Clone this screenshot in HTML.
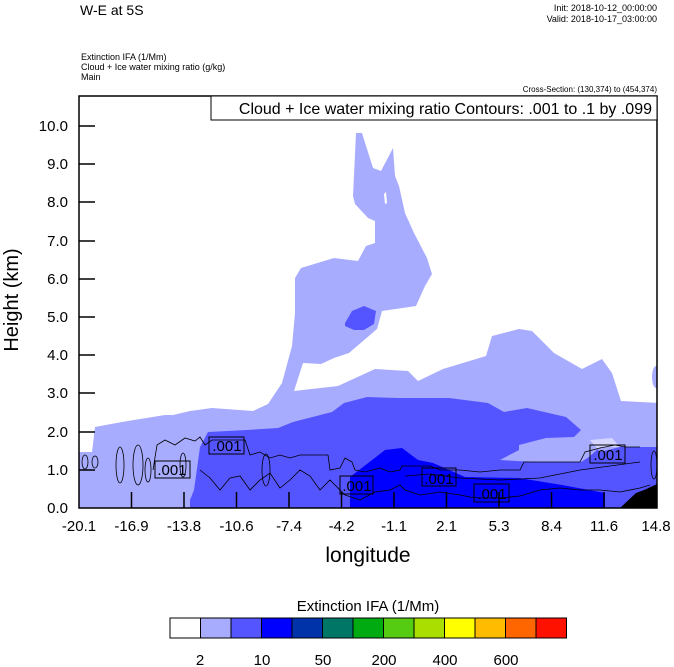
<!DOCTYPE html>
<html><head><style>
body{margin:0;background:#fff;}
svg{display:block;font-family:"Liberation Sans",sans-serif;}
</style></head><body>
<svg width="674" height="667" viewBox="0 0 674 667">
<text x="80" y="15" font-size="14">W-E at 5S</text>
<text x="657" y="11" font-size="9" text-anchor="end">Init: 2018-10-12_00:00:00</text>
<text x="657" y="22" font-size="9" text-anchor="end">Valid: 2018-10-17_03:00:00</text>
<text x="81" y="60" font-size="9">Extinction IFA   (1/Mm)</text>
<text x="81" y="70" font-size="9">Cloud + Ice water mixing ratio    (g/kg)</text>
<text x="81" y="80" font-size="9">Main</text>
<text x="657" y="92" font-size="8" text-anchor="end">Cross-Section: (130,374) to (454,374)</text>
<defs><clipPath id="c"><rect x="79" y="96" width="578" height="412"/></clipPath></defs>
<g clip-path="url(#c)">
<path fill="#a8acff" d="M356,133 L362,133 L373,168 L381,171 L393,148 L395,176 L399,186 L405,213 L414,233 L427,258 L432,274 L425,286 L416,306 L382,311 L377,329 L349,353 L334,358 L321,364 L303,363 L294,391 L338,386 L375,369 L408,371 L418,381 L443,369 L486,356 L492,336 L519,329 L532,331 L554,353 L582,369 L602,359 L612,373 L621,401 L660,403 L660,510 L76,510 L76,452 L92,452 L95,427 L122,422 L165,415 L173,415 L190,411 L212,408 L253,411 L268,404 L282,383 L292,346 L295,313 L295,278 L301,268 L334,258 L358,261 L366,246 L375,243 L375,221 L368,218 L355,204 L353,196 Z"/>
<path fill="#fff" d="M384,194 L386,192 L387,203 L385,204 Z"/>
<ellipse cx="656" cy="377" rx="4" ry="11" fill="#a8acff"/>
<path fill="#5555ff" d="M190,508 L190,500 L194,490 L200,447 L208,432 L247,430 L278,428 L293,422 L332,412 L344,403 L367,397 L398,398 L449,398 L488,403 L504,412 L527,408 L566,417 L581,430 L574,437 L546,438 L519,445 L519,450 L500,460 L535,462 L581,462 L589,457 L600,447 L620,447 L660,447 L660,508 Z"/>
<path fill="#5555ff" d="M345,323 L352,311 L364,306 L376,311 L374,324 L364,330 L354,330 L345,326 Z"/>
<path fill="#fff" opacity="0.5" d="M590,440 L612,438 L620,447 L600,452 Z"/>
<path fill="#0000ff" d="M350,508 L350,477 L385,450 L402,448 L418,460 L433,463 L465,477 L519,478 L562,485 L605,493 L605,508 Z"/>
<path fill="#000" d="M620,508 L636,493 L644,490 L655,485 L660,482 L660,508 Z"/>
<g fill="none" stroke="#000" stroke-width="0.8">
<path d="M153,470 L157,445 L165,440 L175,445 L185,438 L195,441 L200,437 L205,445 L212,440 L245,440 L250,455 L260,452 L270,458 L280,455 L290,458 L300,455 L328,455 L330,470 L340,468 L345,458 L352,462 L355,470 L365,472 L380,468 L390,472 L400,470 L402,466 L430,466 L440,470 L460,470 L480,472 L500,470 L520,470 L524,462 L580,462 L585,452 L600,448 L615,445 L625,447 L640,447"/>
<path d="M200,470 L210,478 L220,490 L230,478 L240,476 L250,490 L260,480 L270,473 L280,488 L290,480 L300,470 L310,476 L320,490 L330,480 L345,495 L360,500 L375,492 L390,490 L400,485 L405,490 L420,495 L440,492 L460,495 L470,497 L480,498 L500,498 L520,496 L540,490 L560,488 L580,490 L600,490 L620,492 L640,488 L650,485"/>
<path d="M405,476 L430,474 L460,478 L500,480 L540,478 L580,470 L610,466 L640,462"/>
<ellipse cx="85" cy="462" rx="3" ry="7"/><ellipse cx="95" cy="462" rx="3" ry="6"/>
<ellipse cx="120" cy="465" rx="4" ry="18"/><ellipse cx="138" cy="465" rx="5" ry="20"/>
<ellipse cx="148" cy="470" rx="3" ry="12"/><ellipse cx="183" cy="465" rx="3" ry="12"/>
<ellipse cx="654" cy="465" rx="3" ry="14"/><ellipse cx="266" cy="470" rx="4" ry="16"/>
</g>
<g fill="none" stroke="#000" stroke-width="1">
<rect x="155" y="461" width="35" height="17"/><rect x="209" y="437" width="35" height="17"/>
<rect x="340" y="476" width="33" height="18"/><rect x="422" y="468" width="34" height="18"/>
<rect x="474" y="484" width="35" height="18"/><rect x="590" y="445" width="35" height="18"/>
</g>
<g font-size="15" text-anchor="middle">
<text x="172" y="475">.001</text><text x="227" y="451">.001</text>
<text x="357" y="491">.001</text><text x="439" y="484">.001</text>
<text x="492" y="499">.001</text><text x="608" y="460">.001</text>
</g>
</g>
<rect x="79" y="96" width="578" height="412" fill="none" stroke="#000" stroke-width="1.5"/>
<rect x="211" y="96" width="446" height="24" fill="#fff" stroke="#000" stroke-width="1"/>
<text x="652" y="114" font-size="16" text-anchor="end">Cloud + Ice water mixing ratio Contours: .001 to .1 by .099</text>
<g stroke="#000" stroke-width="1.5">
<line x1="79" y1="126" x2="95" y2="126"/><line x1="79" y1="164" x2="95" y2="164"/><line x1="79" y1="202" x2="95" y2="202"/><line x1="79" y1="241" x2="95" y2="241"/><line x1="79" y1="279" x2="95" y2="279"/><line x1="79" y1="317" x2="95" y2="317"/><line x1="79" y1="355" x2="95" y2="355"/><line x1="79" y1="393" x2="95" y2="393"/><line x1="79" y1="432" x2="95" y2="432"/><line x1="79" y1="470" x2="95" y2="470"/>
<line x1="131.5" y1="508" x2="131.5" y2="492"/><line x1="184" y1="508" x2="184" y2="492"/><line x1="236.5" y1="508" x2="236.5" y2="492"/><line x1="289" y1="508" x2="289" y2="492"/><line x1="341.5" y1="508" x2="341.5" y2="492"/><line x1="394" y1="508" x2="394" y2="492"/><line x1="446.5" y1="508" x2="446.5" y2="492"/><line x1="499" y1="508" x2="499" y2="492"/><line x1="551.5" y1="508" x2="551.5" y2="492"/><line x1="604" y1="508" x2="604" y2="492"/>
</g>
<g font-size="15" text-anchor="end">
<text x="68" y="131">10.0</text><text x="68" y="169">9.0</text><text x="68" y="207">8.0</text><text x="68" y="246">7.0</text><text x="68" y="284">6.0</text><text x="68" y="322">5.0</text><text x="68" y="360">4.0</text><text x="68" y="398">3.0</text><text x="68" y="437">2.0</text><text x="68" y="475">1.0</text><text x="68" y="513">0.0</text>
</g>
<g font-size="15" text-anchor="middle">
<text x="79" y="531">-20.1</text><text x="131.5" y="531">-16.9</text><text x="184" y="531">-13.8</text><text x="236.5" y="531">-10.6</text><text x="289" y="531">-7.4</text><text x="341.5" y="531">-4.2</text><text x="394" y="531">-1.1</text><text x="446.5" y="531">2.1</text><text x="499" y="531">5.3</text><text x="551.5" y="531">8.4</text><text x="604" y="531">11.6</text><text x="656" y="531">14.8</text>
</g>
<text x="368" y="562" font-size="21" text-anchor="middle">longitude</text>
<text transform="translate(18,300) rotate(-90)" font-size="20" text-anchor="middle">Height (km)</text>
<text x="368" y="611" font-size="15" text-anchor="middle">Extinction IFA  (1/Mm)</text>
<g stroke="#000" stroke-width="1">
<rect x="170" y="618" width="30.5" height="20" fill="#fff"/>
<rect x="200.5" y="618" width="30.5" height="20" fill="#a8acff"/>
<rect x="231" y="618" width="30.5" height="20" fill="#5555ff"/>
<rect x="261.5" y="618" width="30.5" height="20" fill="#0000ff"/>
<rect x="292" y="618" width="30.5" height="20" fill="#0033aa"/>
<rect x="322.5" y="618" width="30.5" height="20" fill="#007766"/>
<rect x="353" y="618" width="30.5" height="20" fill="#00aa11"/>
<rect x="383.5" y="618" width="30.5" height="20" fill="#55cc11"/>
<rect x="414" y="618" width="30.5" height="20" fill="#aadd00"/>
<rect x="444.5" y="618" width="30.5" height="20" fill="#ffff00"/>
<rect x="475" y="618" width="30.5" height="20" fill="#ffbb00"/>
<rect x="505.5" y="618" width="30.5" height="20" fill="#ff6600"/>
<rect x="536" y="618" width="30.5" height="20" fill="#ff1100"/>
</g>
<g font-size="15" text-anchor="middle">
<text x="200" y="665">2</text><text x="262" y="665">10</text><text x="323" y="665">50</text><text x="384" y="665">200</text><text x="445" y="665">400</text><text x="506" y="665">600</text>
</g>
</svg>
</body></html>
